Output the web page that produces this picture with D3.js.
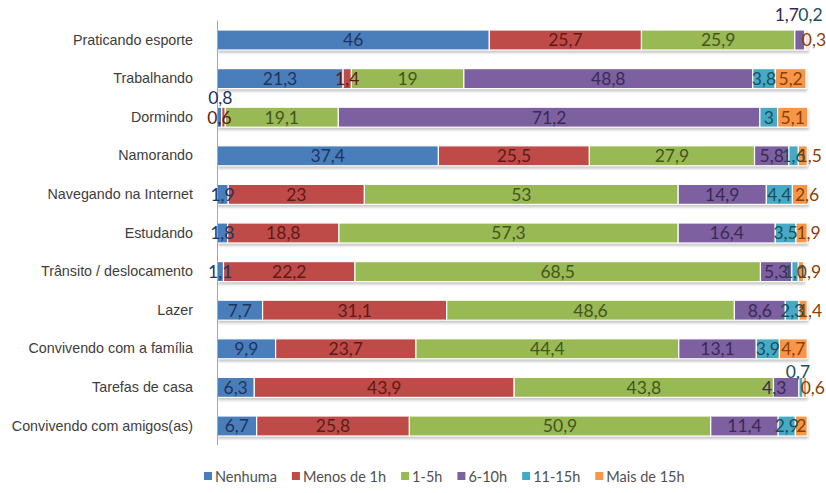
<!DOCTYPE html>
<html><head><meta charset="utf-8">
<script src="https://cdn.jsdelivr.net/npm/d3@7"></script>
<style>
  body { margin: 0; background: #fff; }
  svg { display: block; }
</style>
</head><body>
<svg id="chart" width="826" height="493"></svg>
<script>
// Activities and hours per week (percentage of respondents)
const categories = [
  "Praticando esporte", "Trabalhando", "Dormindo", "Namorando",
  "Navegando na Internet", "Estudando", "Trânsito / deslocamento", "Lazer",
  "Convivendo com a família", "Tarefas de casa", "Convivendo com amigos(as)"
];
const seriesNames = ["Nenhuma", "Menos de 1h", "1-5h", "6-10h", "11-15h", "Mais de 15h"];
const nenhuma   = [46,   21.3, 0.8,  37.4, 1.9,  1.8,  1.1,  7.7,  9.9,  6.3,  6.7];
const menosDe1h = [25.7, 1.4,  0.6,  25.5, 23,   18.8, 22.2, 31.1, 23.7, 43.9, 25.8];
const de1a5h    = [25.9, 19,   19.1, 27.9, 53,   57.3, 68.5, 48.6, 44.4, 43.8, 50.9];
const de6a10h   = [1.7,  48.8, 71.2, 5.8,  14.9, 16.4, 5.3,  8.6,  13.1, 4.3,  11.4];
const de11a15h  = [0.2,  3.8,  3,    1.6,  4.4,  3.5,  1.1,  2.3,  3.9,  0.7,  2.9];
const mais15h   = [0.3,  5.2,  5.1,  1.5,  2.6,  1.9,  0.9,  1.4,  4.7,  0.6,  2];
const seriesValues = [nenhuma, menosDe1h, de1a5h, de6a10h, de11a15h, mais15h];

// Styling
const fills      = ["#4a7ebb", "#be4b48", "#98b954", "#7d60a0", "#46aac5", "#f79646"];
const labelInk   = ["#1c355e", "#5e1a18", "#44551f", "#3a2a55", "#1d4e5c", "#8a3f06"];
// nudges for labels of thin segments that would otherwise collide
const labelNudge = {
  "0-3": [-13, -25], "0-4": [5, -25], "0-5": [7, 0],
  "2-0": [1, -20],   "2-1": [-4, 0],
  "3-5": [7, 0], "4-5": [7, 0], "5-5": [7, 0], "6-5": [8, 0], "7-5": [7, 0],
  "9-3": [-12, 0], "9-4": [-3, -16], "9-5": [8, 0]
};

const svg = d3.select("#chart");
const x = d3.scaleLinear().domain([0, 100]).range([217, 809]);
const y = d3.scaleBand().domain(categories).range([20.7, 445.3])
  .paddingInner(0.482).paddingOuter(0.241);

// rows of stacked data
const rows = categories.map((c, i) => {
  let acc = 0;
  return seriesValues.map((vals, s) => {
    const v = vals[i];
    const seg = { cat: c, row: i, s, v, x0: acc, x1: acc + v };
    acc += v;
    return seg;
  });
});

const defs = svg.append("defs");
defs.append("filter").attr("id", "soft").attr("x", "-5%").attr("y", "-50%")
  .attr("width", "110%").attr("height", "200%")
  .append("feGaussianBlur").attr("stdDeviation", 1.2);

// bar shadows
svg.append("g").selectAll("rect").data(rows).join("rect")
  .attr("x", d => x(0) + 1)
  .attr("y", d => y(d[0].cat) + 3)
  .attr("width", d => x(d[d.length - 1].x1) - x(0))
  .attr("height", y.bandwidth())
  .attr("fill", "#b9b9b9")
  .attr("opacity", 0.75)
  .attr("filter", "url(#soft)");

// segments
const segs = rows.flat();
svg.append("g").selectAll("rect").data(segs).join("rect")
  .attr("x", d => x(d.x0))
  .attr("y", d => y(d.cat))
  .attr("width", d => Math.max(0, x(d.x1) - x(d.x0)))
  .attr("height", y.bandwidth())
  .attr("fill", d => fills[d.s])
  .attr("stroke", "#fff")
  .attr("stroke-width", 1.2);

// category axis
const axis = svg.append("g").attr("transform", `translate(${x(0)},0)`)
  .call(d3.axisLeft(y).tickSize(0).tickPadding(24));
axis.select(".domain").attr("stroke", "#a6a6a6").attr("stroke-width", 1)
  .attr("d", `M0.5,${y.range()[0]}V${y.range()[1]}`);
axis.selectAll("text")
  .attr("font-family", "'Liberation Sans', Arial, sans-serif")
  .attr("font-size", 14.3)
  .attr("fill", "#3d3d3d");

// value labels
const fmt = v => String(v).replace(".", ",");
svg.append("g").selectAll("text").data(segs).join("text")
  .attr("x", d => (x(d.x0) + x(d.x1)) / 2 + (labelNudge[d.row + "-" + d.s] || [0, 0])[0])
  .attr("y", d => y(d.cat) + y.bandwidth() / 2 + (labelNudge[d.row + "-" + d.s] || [0, 0])[1])
  .attr("dy", "0.36em")
  .attr("text-anchor", "middle")
  .attr("font-family", "Lato, 'Open Sans', sans-serif")
  .attr("font-size", 17.5)
  .attr("fill", d => labelInk[d.s])
  .text(d => fmt(d.v));

// legend
const legend = svg.append("g").attr("font-family", "Lato, 'Open Sans', sans-serif")
  .attr("font-size", 14.5).attr("fill", "#505050");
let lx = 204;
seriesNames.forEach((name, s) => {
  const g = legend.append("g").attr("transform", `translate(${lx},477)`);
  g.append("rect").attr("x", 0).attr("y", -5).attr("width", 8).attr("height", 8)
    .attr("fill", fills[s]);
  const t = g.append("text").attr("x", 11).attr("y", 0).attr("dy", "0.36em").text(name);
  lx += 11 + t.node().getComputedTextLength() + 15;
});
</script>
</body></html>
